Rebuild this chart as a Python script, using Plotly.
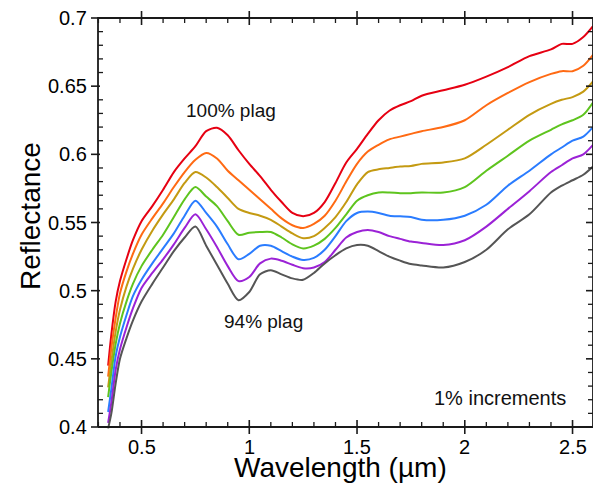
import plotly.graph_objects as go

wavelength = [0.345, 0.36, 0.38, 0.40, 0.43, 0.46, 0.50, 0.55, 0.60, 0.65, 0.70, 0.75, 0.80, 0.85,
              0.90, 0.95, 1.00, 1.05, 1.10, 1.15, 1.20, 1.25, 1.30, 1.35, 1.40, 1.45, 1.50, 1.55,
              1.60, 1.65, 1.70, 1.75, 1.80, 1.90, 2.00, 2.10, 2.20, 2.30, 2.40, 2.45, 2.50, 2.55, 2.595]

plag100 = [0.445, 0.468, 0.492, 0.507, 0.523, 0.537, 0.551, 0.562, 0.574, 0.587, 0.597, 0.606, 0.617, 0.6195,
           0.614, 0.603, 0.593, 0.584, 0.574, 0.565, 0.557, 0.5545, 0.557, 0.565, 0.579, 0.594, 0.604, 0.615,
           0.625, 0.632, 0.636, 0.639, 0.643, 0.647, 0.651, 0.657, 0.664, 0.672, 0.677, 0.681, 0.681, 0.686, 0.694]
plag99 = [0.437, 0.458, 0.480, 0.498, 0.514, 0.527, 0.541, 0.553, 0.564, 0.576, 0.587, 0.596, 0.601, 0.597,
          0.588, 0.581, 0.574, 0.567, 0.560, 0.553, 0.548, 0.546, 0.549, 0.555, 0.566, 0.580, 0.593, 0.602,
          0.607, 0.611, 0.613, 0.615, 0.617, 0.620, 0.625, 0.636, 0.645, 0.653, 0.659, 0.661, 0.661, 0.665, 0.673]
plag98 = [0.429, 0.448, 0.470, 0.486, 0.503, 0.516, 0.530, 0.544, 0.556, 0.567, 0.579, 0.587, 0.583, 0.576,
          0.568, 0.560, 0.557, 0.555, 0.552, 0.547, 0.542, 0.5385, 0.540, 0.546, 0.554, 0.565, 0.578, 0.587,
          0.589, 0.590, 0.591, 0.5915, 0.593, 0.594, 0.597, 0.607, 0.618, 0.629, 0.637, 0.640, 0.642, 0.646, 0.6535]
plag97 = [0.422, 0.440, 0.461, 0.476, 0.492, 0.505, 0.518, 0.530, 0.541, 0.554, 0.567, 0.576, 0.569, 0.562,
          0.551, 0.541, 0.5425, 0.543, 0.543, 0.539, 0.534, 0.531, 0.533, 0.538, 0.546, 0.556, 0.566, 0.570,
          0.572, 0.572, 0.5715, 0.5715, 0.572, 0.572, 0.576, 0.588, 0.599, 0.610, 0.618, 0.622, 0.625, 0.629, 0.638]
plag96 = [0.411, 0.428, 0.452, 0.466, 0.482, 0.496, 0.508, 0.520, 0.531, 0.542, 0.555, 0.566, 0.557, 0.547,
          0.534, 0.523, 0.527, 0.533, 0.533, 0.529, 0.525, 0.5225, 0.524, 0.530, 0.540, 0.551, 0.557, 0.558,
          0.557, 0.555, 0.5545, 0.554, 0.552, 0.552, 0.555, 0.563, 0.577, 0.588, 0.600, 0.605, 0.610, 0.613, 0.620]
plag95 = [0.403, 0.418, 0.442, 0.457, 0.473, 0.487, 0.502, 0.513, 0.523, 0.534, 0.546, 0.556, 0.545, 0.532,
          0.518, 0.507, 0.510, 0.520, 0.5235, 0.522, 0.519, 0.5165, 0.517, 0.521, 0.530, 0.539, 0.543, 0.5445,
          0.543, 0.540, 0.538, 0.536, 0.535, 0.5335, 0.537, 0.547, 0.560, 0.573, 0.587, 0.592, 0.597, 0.600, 0.607]
plag94 = [0.399, 0.410, 0.432, 0.450, 0.465, 0.478, 0.492, 0.505, 0.517, 0.529, 0.539, 0.547, 0.533, 0.519,
          0.505, 0.493, 0.499, 0.512, 0.515, 0.512, 0.509, 0.508, 0.513, 0.520, 0.526, 0.531, 0.5335, 0.533,
          0.529, 0.525, 0.522, 0.5195, 0.5185, 0.517, 0.521, 0.530, 0.545, 0.556, 0.572, 0.577, 0.581, 0.585, 0.591]

series = [plag100, plag99, plag98, plag97, plag96, plag95, plag94]
series_names = ["100% plag", "99% plag", "98% plag", "97% plag", "96% plag", "95% plag", "94% plag"]
colors = ["#e60012", "#ff6a13", "#c49a12", "#5ec41e", "#2a7cff", "#9b22d6", "#555555"]

x_major = [0.5, 1.0, 1.5, 2.0, 2.5]
x_ticktext = ["0.5", "1", "1.5", "2", "2.5"]
y_major = [0.4, 0.45, 0.5, 0.55, 0.6, 0.65, 0.7]
y_ticktext = ["0.4", "0.45", "0.5", "0.55", "0.6", "0.65", "0.7"]
x_minor_step = 0.1
y_minor_step = 0.01

XR = [0.298, 2.595]   # framed data range
YR = [0.4, 0.7]
FONT = "Liberation Sans, Arial, sans-serif"
FRAME = "#1a1a1a"

# figure geometry (page body adds an 8px margin, so the figure is 593x486)
W, H = 593, 486
FL, FR, FT, FB = 90, 8, 10, 67          # framed box margins
PAD_L, PAD_R, PAD_T, PAD_B = 9, 8, 9, 9  # extra plot area so ticks stay inside the clip
PW, PH = W - FL - FR, H - FT - FB
px_x = (XR[1] - XR[0]) / PW
px_y = (YR[1] - YR[0]) / PH
XR_ext = [XR[0] - PAD_L * px_x, XR[1] + PAD_R * px_x]
YR_ext = [YR[0] - PAD_B * px_y, YR[1] + PAD_T * px_y]
ML, MR, MT, MB = FL - PAD_L, FR - PAD_R, FT - PAD_T, FB - PAD_B
PW_ext, PH_ext = W - ML - MR, H - MT - MB

fig = go.Figure()
for name, vals, col in zip(series_names, series, colors):
    fig.add_trace(go.Scatter(x=wavelength, y=vals, mode="lines", name=name,
                             line=dict(color=col, width=2, shape="spline", smoothing=0.8),
                             showlegend=False))

def seg(x0, y0, x1, y1, w):
    fig.add_trace(go.Scatter(x=[x0, x1], y=[y0, y1], mode="lines",
                             line=dict(color=FRAME, width=w), hoverinfo="none", showlegend=False))

fig.add_trace(go.Scatter(x=[XR[0], XR[1], XR[1], XR[0], XR[0]], y=[YR[0], YR[0], YR[1], YR[1], YR[0]],
                         mode="lines", line=dict(color=FRAME, width=1.8), hoverinfo="none",
                         showlegend=False))
for v in x_major:
    seg(v, YR[0] - 7 * px_y, v, YR[0] + 7 * px_y, 1.6)
    seg(v, YR[1] - 7 * px_y, v, YR[1] + 7 * px_y, 1.6)
for v in y_major:
    seg(XR[0] - 7 * px_x, v, XR[0] + 2 * px_x, v, 1.6)
    seg(XR[1] - 7 * px_x, v, XR[1] + 7 * px_x, v, 1.6)

n_xminor = int(round((XR[1] - 0.3) / x_minor_step)) + 1
for i in range(n_xminor):
    v = round(0.3 + i * x_minor_step, 2)
    if v in x_major or not (XR[0] <= v <= XR[1]):
        continue
    seg(v, YR[0], v, YR[0] + 5 * px_y, 1.3)
    seg(v, YR[1] - 5 * px_y, v, YR[1], 1.3)
n_yminor = int(round((YR[1] - YR[0]) / y_minor_step)) + 1
for i in range(n_yminor):
    v = round(YR[0] + i * y_minor_step, 3)
    if any(abs(v - m) < 1e-6 for m in y_major):
        continue
    seg(XR[0], v, XR[0] + 5 * px_x, v, 1.3)
    seg(XR[1] - 5 * px_x, v, XR[1], v, 1.3)

fig.update_layout(
    width=W, height=H,
    margin=dict(l=ML, r=MR, t=MT, b=MB, pad=0, autoexpand=False),
    paper_bgcolor="white", plot_bgcolor="white",
    font=dict(family=FONT, color="black"),
    xaxis=dict(range=XR_ext, autorange=False, showticklabels=False, ticks="", showline=False,
               showgrid=False, zeroline=False, automargin=False),
    yaxis=dict(range=YR_ext, autorange=False, showticklabels=False, ticks="", showline=False,
               showgrid=False, zeroline=False, automargin=False),
)

# tick labels as text placed at the tick values
for v, t in zip(x_major, x_ticktext):
    fig.add_annotation(x=v, y=YR[0], text=t, showarrow=False, xanchor="center", yanchor="middle",
                       yshift=-20, font=dict(family=FONT, size=20, color="black"))
for v, t in zip(y_major, y_ticktext):
    fig.add_annotation(x=XR[0], y=v, text=t, showarrow=False, xanchor="right", yanchor="middle",
                       xshift=-9, font=dict(family=FONT, size=20, color="black"))

# axis titles (page coords: Wavelength centre ~(340,467), Reflectance centre ~(30,216))
fig.add_annotation(xref="paper", yref="paper", x=(332 - ML) / PW_ext, y=(H - MB - 459) / PH_ext,
                   text="Wavelength (µm)", showarrow=False, xanchor="center", yanchor="middle",
                   font=dict(family=FONT, size=28, color="black"))
fig.add_annotation(xref="paper", yref="paper", x=(22 - ML) / PW_ext, y=(H - MB - 208) / PH_ext,
                   text="Reflectance", showarrow=False, xanchor="center", yanchor="middle",
                   textangle=-90, font=dict(family=FONT, size=28, color="black"))

fig.add_annotation(x=0.915, y=0.632, text="100% plag", showarrow=False,
                   font=dict(family=FONT, size=19, color="#111111"))
fig.add_annotation(x=1.068, y=0.4771, text="94% plag", showarrow=False,
                   font=dict(family=FONT, size=19, color="#111111"))
fig.add_annotation(x=2.163, y=0.4216, text="1% increments", showarrow=False,
                   font=dict(family=FONT, size=20, color="#111111"))

fig.write_html("out.html")
